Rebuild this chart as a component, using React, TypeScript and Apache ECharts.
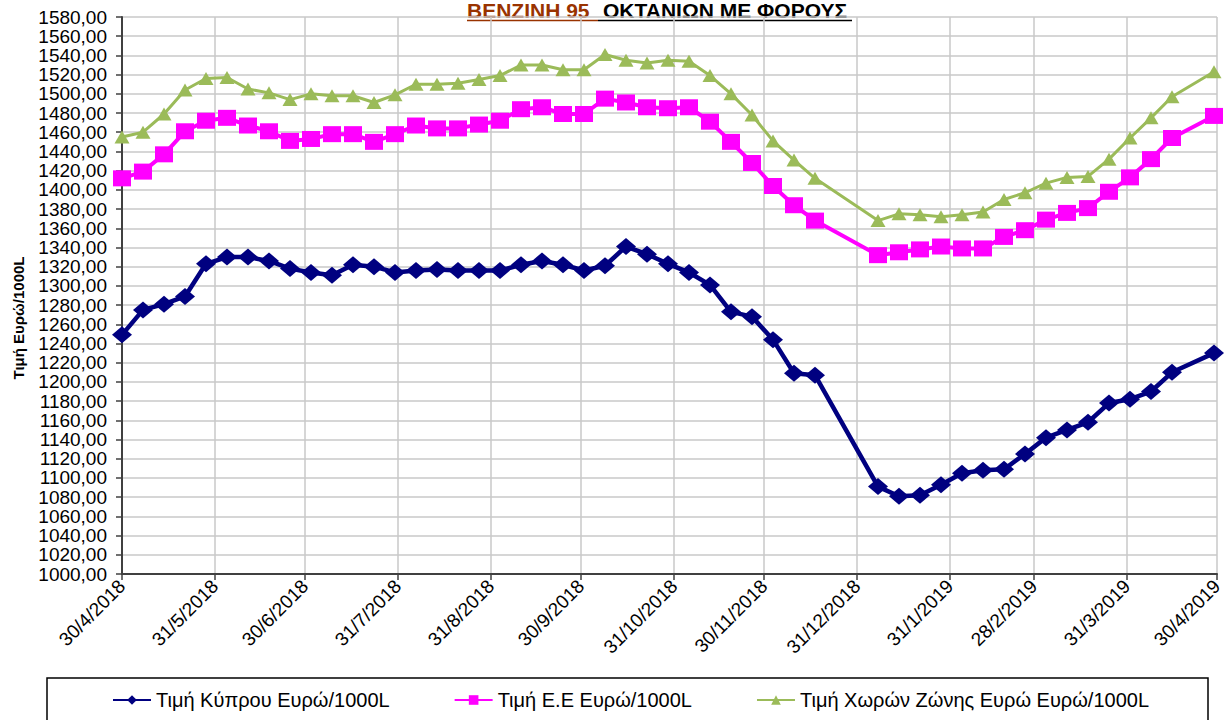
import React, { useEffect, useRef } from 'react';
import * as echarts from 'echarts';

const dates = [
  '2018-04-30', '2018-05-07', '2018-05-14', '2018-05-21', '2018-05-28', '2018-06-04', '2018-06-11', '2018-06-18',
  '2018-06-25', '2018-07-02', '2018-07-09', '2018-07-16', '2018-07-23', '2018-07-30', '2018-08-06', '2018-08-13',
  '2018-08-20', '2018-08-27', '2018-09-03', '2018-09-10', '2018-09-17', '2018-09-24', '2018-10-01', '2018-10-08',
  '2018-10-15', '2018-10-22', '2018-10-29', '2018-11-05', '2018-11-12', '2018-11-19', '2018-11-26', '2018-12-03',
  '2018-12-10', '2018-12-17',
  '2019-01-07', '2019-01-14', '2019-01-21', '2019-01-28', '2019-02-04', '2019-02-11', '2019-02-18', '2019-02-25',
  '2019-03-04', '2019-03-11', '2019-03-18', '2019-03-25', '2019-04-01', '2019-04-08', '2019-04-15', '2019-04-29',
];

const cyprus = [
  1249, 1275, 1281, 1289, 1323, 1330, 1330, 1326, 1318, 1314, 1311, 1322, 1320, 1314, 1316, 1317,
  1316, 1316, 1316, 1322, 1326, 1322, 1316, 1321, 1341, 1333, 1323, 1314, 1301, 1273, 1268, 1244,
  1209, 1207,
  1091, 1081, 1082, 1093, 1105, 1108, 1109, 1125, 1142, 1150, 1158, 1178, 1182, 1190, 1210, 1230,
];

const eu = [
  1412, 1419, 1437, 1461, 1472, 1475, 1467, 1461, 1451, 1453, 1458, 1458, 1450, 1458, 1467, 1464,
  1464, 1468, 1472, 1484, 1486, 1479, 1479, 1495, 1491, 1486, 1485, 1486, 1471, 1450, 1428, 1404,
  1384, 1368,
  1332, 1335, 1338, 1341, 1339, 1339, 1351, 1358, 1369, 1376, 1381, 1398, 1413, 1432, 1454, 1477,
];

const euroZone = [
  1455, 1460, 1479, 1504, 1516, 1517, 1505, 1501, 1494, 1500, 1498, 1498, 1491, 1499, 1510, 1510,
  1511, 1515, 1519, 1530, 1530, 1525, 1525, 1541, 1535, 1532, 1535, 1534, 1519, 1500, 1478, 1451,
  1431, 1412,
  1368, 1375, 1374, 1372, 1374, 1377, 1390, 1397, 1407, 1413, 1414, 1432, 1454, 1475, 1497, 1523,
];

const monthEnds = [
  '2018-04-30', '2018-05-31', '2018-06-30', '2018-07-31', '2018-08-31', '2018-09-30', '2018-10-31',
  '2018-11-30', '2018-12-31', '2019-01-31', '2019-02-28', '2019-03-31', '2019-04-30',
];

const seriesNames = [
  'Τιμή Κύπρου Ευρώ/1000L',
  'Τιμή Ε.Ε Ευρώ/1000L',
  'Τιμή Χωρών Ζώνης Ευρώ Ευρώ/1000L',
];

const yMin = 1000;
const yMax = 1580;
const yStep = 20;

const FONT = '"Liberation Sans", Arial, sans-serif';

const ts = (s: string) => {
  const [y, m, d] = s.split('-').map(Number);
  return Date.UTC(y, m - 1, d);
};

export default function App() {
  const ref = useRef<HTMLDivElement>(null);

  useEffect(() => {
    if (!ref.current) return;
    const chart = echarts.init(ref.current, null, { renderer: 'svg' });
    const tickValues = monthEnds.map(ts);
    const mk = (vals: number[]) => vals.map((v, i) => [ts(dates[i]), v]);

    chart.setOption({
      animation: false,
      backgroundColor: '#ffffff',
      textStyle: { fontFamily: FONT },
      grid: {
        left: 122,
        right: 9,
        top: 17,
        bottom: 146,
        containLabel: false,
        outerBoundsMode: 'none',
      },
      xAxis: {
        type: 'value',
        min: ts(monthEnds[0]),
        max: ts(monthEnds[monthEnds.length - 1]),
        axisLine: { show: true, onZero: false, lineStyle: { color: '#404040', width: 2 } },
        axisTick: { show: true, length: 6, customValues: tickValues, lineStyle: { color: '#404040', width: 1.5 } },
        axisLabel: {
          customValues: tickValues,
          rotate: 45,
          margin: 9,
          fontSize: 19,
          color: '#000',
          fontFamily: FONT,
          hideOverlap: false,
          showMinLabel: true,
          showMaxLabel: true,
          formatter: (v: number) => {
            const d = new Date(v);
            return `${d.getUTCDate()}/${d.getUTCMonth() + 1}/${d.getUTCFullYear()}`;
          },
        },
        splitLine: { show: true, lineStyle: { color: '#c8c8c8', width: 1.5 } },
      },
      yAxis: {
        type: 'value',
        min: yMin,
        max: yMax,
        interval: yStep,
        axisLine: { show: true, lineStyle: { color: '#404040', width: 2 } },
        axisTick: { show: true, length: 6, lineStyle: { color: '#404040', width: 1.5 } },
        axisLabel: {
          margin: 15,
          fontSize: 19,
          color: '#000',
          fontFamily: FONT,
          formatter: (v: number) => v.toFixed(2).replace('.', ','),
        },
        splitLine: { show: true, lineStyle: { color: '#c8c8c8', width: 1.5 } },
      },
      legend: {
        left: 112,
        top: 690,
        padding: 0,
        itemWidth: 38,
        itemHeight: 12,
        itemGap: 64,
        textStyle: { fontSize: 20, color: '#000', fontFamily: FONT },
        data: seriesNames,
      },
      graphic: [
        {
          type: 'rect',
          shape: { x: 47, y: 678, width: 1161, height: 80 },
          style: { fill: 'none', stroke: '#000', lineWidth: 1.5 },
          z: 0,
        },
        {
          type: 'text',
          x: 467,
          y: 0,
          style: {
            text: 'ΒΕΝΖΙΝΗ 95',
            fill: '#993300',
            font: `bold 21px ${FONT}`,
            textAlign: 'left',
            textVerticalAlign: 'top',
          },
        },
        {
          type: 'text',
          x: 603,
          y: 0,
          style: {
            text: 'ΟΚΤΑΝΙΩΝ ΜΕ ΦΟΡΟΥΣ',
            fill: '#000',
            font: `bold 21px ${FONT}`,
            textAlign: 'left',
            textVerticalAlign: 'top',
          },
        },
        {
          type: 'line',
          shape: { x1: 467, y1: 20.5, x2: 598, y2: 20.5 },
          style: { stroke: '#993300', lineWidth: 1.5 },
        },
        {
          type: 'line',
          shape: { x1: 598, y1: 20.5, x2: 852, y2: 20.5 },
          style: { stroke: '#000', lineWidth: 1.5 },
        },
        {
          type: 'text',
          x: 18,
          y: 318,
          rotation: Math.PI / 2,
          style: {
            text: 'Τιμή Ευρώ/1000L',
            fill: '#000',
            font: `bold 15px ${FONT}`,
            textAlign: 'center',
            textVerticalAlign: 'middle',
          },
        },
      ],
      series: [
        {
          name: seriesNames[2],
          type: 'line',
          data: mk(euroZone),
          symbol: 'triangle',
          symbolSize: [15, 13],
          color: '#9BBB59',
          lineStyle: { color: '#9BBB59', width: 3 },
          itemStyle: { color: '#9BBB59' },
          z: 3,
        },
        {
          name: seriesNames[1],
          type: 'line',
          data: mk(eu),
          symbol: 'rect',
          symbolSize: [18, 16],
          color: '#FF00FF',
          lineStyle: { color: '#FF00FF', width: 4 },
          itemStyle: { color: '#FF00FF' },
          z: 4,
        },
        {
          name: seriesNames[0],
          type: 'line',
          data: mk(cyprus),
          symbol: 'diamond',
          symbolSize: [20, 17],
          color: '#000080',
          lineStyle: { color: '#000080', width: 4.5 },
          itemStyle: { color: '#000080' },
          z: 5,
        },
      ],
    });

    return () => chart.dispose();
  }, []);

  return (
    <div
      ref={ref}
      style={{ position: 'absolute', left: 0, top: 0, width: 1226, height: 720, background: '#fff' }}
    />
  );
}
